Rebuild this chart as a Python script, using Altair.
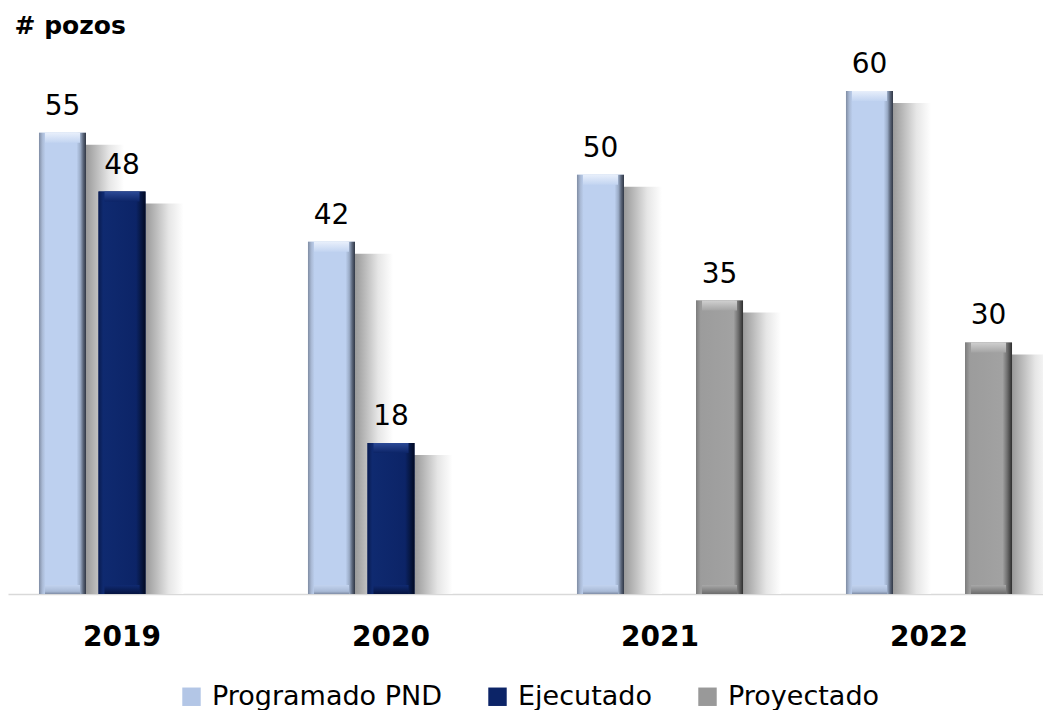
import altair as alt
import pandas as pd

years = ["2019", "2020", "2021", "2022"]
series = ["Programado PND", "Ejecutado", "Proyectado"]
programado = [55, 42, 50, 60]
ejecutado = [48, 18, None, None]
proyectado = [None, None, 35, 30]
y_title = "# pozos"

rows = []
for i, y in enumerate(years):
    for s, vals in zip(series, [programado, ejecutado, proyectado]):
        if vals[i] is not None:
            rows.append({"year": y, "serie": s, "value": vals[i]})
df = pd.DataFrame(rows)

FONT = "DejaVu Sans"
base_colors = ["#b3c6e6", "#0c2467", "#999999"]


def hgrad(stops):
    return alt.LinearGradient(
        gradient="linear", x1=0, x2=1, y1=0, y2=0,
        stops=[alt.GradientStop(offset=o, color=c) for o, c in stops])


def vgrad(stops):
    return alt.LinearGradient(
        gradient="linear", x1=0, x2=0, y1=0, y2=1,
        stops=[alt.GradientStop(offset=o, color=c) for o, c in stops])


bar_grad = {
    "Programado PND": hgrad([(0, "#7f8ca3"), (0.07, "#a9b9d4"), (0.14, "#bdd0ef"),
                             (0.8, "#bdd0ef"), (0.88, "#9aabc6"), (0.94, "#5b667a"), (1, "#2f3644")]),
    "Ejecutado": hgrad([(0, "#0a1c50"), (0.1, "#0f2a70"), (0.8, "#0c2467"),
                        (0.9, "#071845"), (1, "#020a22")]),
    "Proyectado": hgrad([(0, "#7c7c7c"), (0.1, "#9c9c9c"), (0.8, "#a2a2a2"),
                         (0.9, "#6e6e6e"), (1, "#2e2e2e")]),
}
cap_grad = {
    "Programado PND": vgrad([(0, "#e8effb"), (1, "#c2d4f1")]),
    "Ejecutado": vgrad([(0, "#2c4a96"), (1, "#0c2467")]),
    "Proyectado": vgrad([(0, "#d0d0d0"), (1, "#a4a4a4")]),
}
bottom_grad = {
    "Programado PND": vgrad([(0, "#c2d3ef"), (0.7, "#a9bad6"), (1, "#7f8da6")]),
    "Ejecutado": vgrad([(0, "#102a72"), (1, "#051440")]),
    "Proyectado": vgrad([(0, "#a8a8a8"), (1, "#6c6c6c")]),
}
shadow_grad = hgrad([(0, "rgba(255,255,255,0)"), (0.6, "rgba(255,255,255,0)"),
                     (0.61, "#959595"), (0.69, "#999999"), (0.78, "#bdbdbd"),
                     (0.88, "#e6e6e6"), (1, "#ffffff")])

x_enc = alt.X("year:N", sort=years, title=None,
              scale=alt.Scale(paddingInner=0.2, paddingOuter=0.0238),
              axis=alt.Axis(labelAngle=0, ticks=False, labelPadding=29, labelFontSize=28,
                            labelFont=FONT, labelFontWeight="bold", labelColor="black",
                            domainColor="#d9d9d9", domainWidth=1.5, grid=False))
xo_enc = alt.XOffset("serie:N", sort=series,
                     scale=alt.Scale(domain=series, paddingInner=0.21, paddingOuter=0.413))
y_enc = alt.Y("value:Q", title=y_title,
              scale=alt.Scale(domain=[0, 65], nice=False, zero=True),
              axis=alt.Axis(labels=False, ticks=False, domain=False, grid=False,
                            titleAngle=0, titleX=6, titleY=-16, titleAlign="left",
                            titleBaseline="alphabetic", titleFont=FONT, titleFontSize=25,
                            titleFontWeight="bold", titleColor="black"))

base = alt.Chart(df).transform_calculate(zero="0").encode(x=x_enc, xOffset=xo_enc, y=y_enc)

# drop shadow: wider bar, transparent on the left, starting a little below the bar top
shadow = base.mark_bar(color=shadow_grad, width=123, y2Offset=12).encode(
    y=alt.Y("zero:Q"), y2=alt.Y2("value:Q"),
)

legend_bars = base.mark_bar().encode(
    color=alt.Color("serie:N", sort=series,
                    scale=alt.Scale(domain=series, range=base_colors),
                    legend=alt.Legend(title=None, orient="none", direction="horizontal",
                                      legendX=170, legendY=634, symbolType="square",
                                      symbolSize=340, symbolStrokeWidth=0,
                                      labelFont=FONT, labelFontSize=27, labelColor="black",
                                      labelLimit=500, labelOffset=7, columnPadding=42))
)

layers = [shadow, legend_bars]
for s in series:
    layers.append(base.transform_filter(alt.datum.serie == s).mark_bar(color=bar_grad[s]))
for s in series:
    layers.append(
        base.transform_filter(alt.datum.serie == s)
        .mark_bar(color=cap_grad[s], width=35, y2Offset=10)
        .encode(y2=alt.Y2("value:Q"))
    )
    layers.append(
        base.transform_filter(alt.datum.serie == s)
        .mark_bar(color=bottom_grad[s], width=35, y2Offset=-9)
        .encode(y=alt.Y("zero:Q"), y2=alt.Y2("zero:Q"))
    )

labels = base.mark_text(dy=-18, baseline="alphabetic", align="center",
                        font=FONT, fontSize=28, color="black").encode(text="value:Q")
layers.append(labels)

chart = alt.layer(*layers).properties(
    width=1035, height=545,
    autosize=alt.AutoSizeParams(type="none"),
    padding={"top": 41, "left": 0, "right": 0, "bottom": 116},
).configure_view(stroke=None)

chart.save("out.html", embed_options={"renderer": "svg", "actions": False})
